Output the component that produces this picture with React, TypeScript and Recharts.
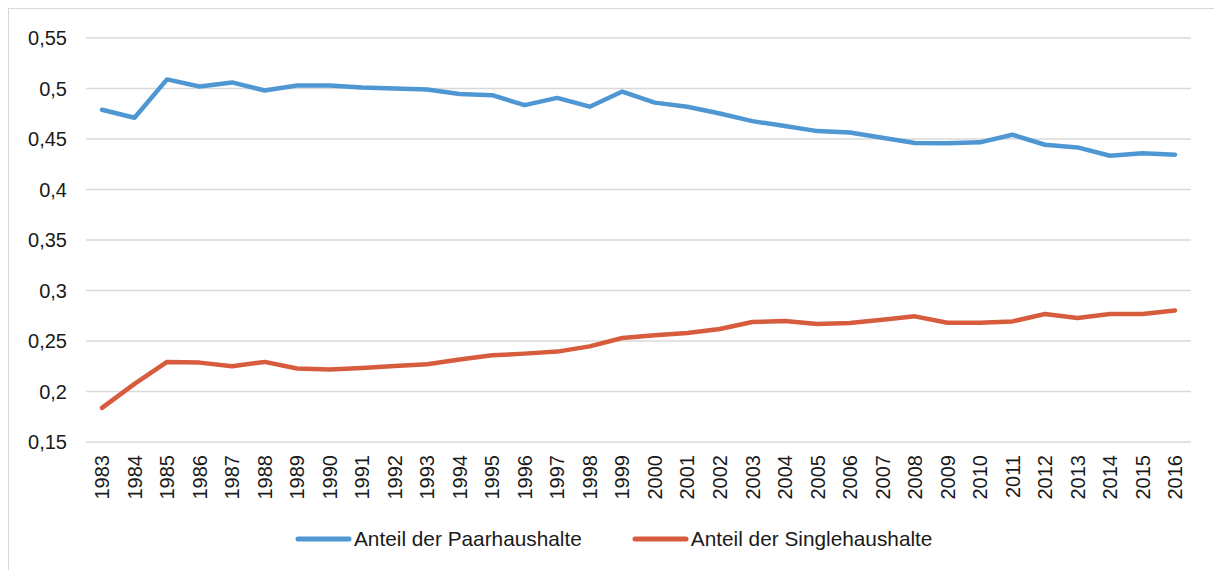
import { LineChart, Line, XAxis, YAxis, CartesianGrid, Legend } from 'recharts';

const years = [
  '1983', '1984', '1985', '1986', '1987', '1988', '1989', '1990', '1991', '1992', '1993', '1994',
  '1995', '1996', '1997', '1998', '1999', '2000', '2001', '2002', '2003', '2004', '2005', '2006',
  '2007', '2008', '2009', '2010', '2011', '2012', '2013', '2014', '2015', '2016',
];

const paarhaushalte = [
  0.479, 0.471, 0.509, 0.502, 0.506, 0.498, 0.503, 0.503, 0.501, 0.5, 0.499, 0.4945,
  0.4934, 0.4835, 0.4907, 0.482, 0.497, 0.486, 0.482, 0.4753, 0.4677, 0.4628, 0.4578, 0.4565,
  0.4512, 0.446, 0.4457, 0.4467, 0.4542, 0.4443, 0.4417, 0.4334, 0.436, 0.4344,
];

const singlehaushalte = [
  0.1838, 0.2075, 0.2293, 0.2286, 0.225, 0.2293, 0.2227, 0.2217, 0.2233, 0.2253, 0.227, 0.2316,
  0.2358, 0.2375, 0.2395, 0.2447, 0.253, 0.2556, 0.258, 0.2619, 0.2688, 0.2698, 0.2668, 0.2678,
  0.2711, 0.2744, 0.2681, 0.2681, 0.2694, 0.2767, 0.2727, 0.2767, 0.2767, 0.2803,
];

const yTicks = [0.15, 0.2, 0.25, 0.3, 0.35, 0.4, 0.45, 0.5, 0.55];

const seriesNames = ['Anteil der Paarhaushalte', 'Anteil der Singlehaushalte'];
const BLUE = '#4f97d3';
const RED = '#d65c3d';
const FONT = '"Liberation Sans", Arial, sans-serif';

const data = years.map((year, i) => ({
  year,
  paar: paarhaushalte[i],
  single: singlehaushalte[i],
}));

const YearTick = ({ x, y, payload }: { x?: number; y?: number; payload?: { value: string } }) => (
  <g transform={`translate(${x},${(y ?? 0) + 5}) rotate(-90)`}>
    <text textAnchor="end" dy="0.36em" fill="#1a1a1a" fontSize={20} fontFamily={FONT}>
      {payload?.value}
    </text>
  </g>
);

const LegendContent = () => (
  <div style={{ display: 'flex', alignItems: 'center', fontFamily: FONT, fontSize: 20.8, color: '#1a1a1a' }}>
    {[BLUE, RED].map((c, i) => (
      <div key={c} style={{ display: 'flex', alignItems: 'center', marginRight: i === 0 ? 50 : 0 }}>
        <svg width={57} height={8}>
          <line x1={3} y1={4} x2={54} y2={4} stroke={c} strokeWidth={5} strokeLinecap="round" />
        </svg>
        <span style={{ marginLeft: 2, lineHeight: '24px' }}>{seriesNames[i]}</span>
      </div>
    ))}
  </div>
);

export default function App() {
  return (
    <div style={{ position: 'absolute', left: 0, top: 0, width: 1214, height: 570, background: '#fff', overflow: 'hidden' }}>
      <div
        style={{
          position: 'absolute',
          left: 8,
          top: 8,
          width: 1240,
          height: 600,
          border: '1.5px solid #d9d9d9',
        }}
      />
      <div style={{ position: 'absolute', left: 0, top: 0 }}>
        <LineChart
          width={1214}
          height={570}
          data={data}
          margin={{ top: 38, right: 23, bottom: 48, left: 0 }}
          style={{ fontFamily: FONT }}
        >
          <CartesianGrid vertical={false} stroke="#d9d9d9" strokeWidth={1.5} />
          <XAxis
            dataKey="year"
            interval={0}
            height={80}
            axisLine={false}
            tickLine={false}
            padding={{ left: 16, right: 16 }}
            tick={<YearTick />}
          />
          <YAxis
            domain={[0.15, 0.55]}
            ticks={yTicks}
            width={86}
            axisLine={false}
            tickLine={false}
            tickMargin={13}
            tick={{ fill: '#1a1a1a', fontSize: 20, fontFamily: FONT }}
            tickFormatter={(v: number) => String(v).replace('.', ',')}
          />
          <Legend
            layout="horizontal"
            verticalAlign="middle"
            align="center"
            content={<LegendContent />}
            wrapperStyle={{ top: 527, left: 295, width: 'auto' }}
          />
          <Line
            type="linear"
            dataKey="paar"
            name={seriesNames[0]}
            stroke={BLUE}
            strokeWidth={4.5}
            dot={false}
            strokeLinecap="round"
            strokeLinejoin="round"
            isAnimationActive={false}
          />
          <Line
            type="linear"
            dataKey="single"
            name={seriesNames[1]}
            stroke={RED}
            strokeWidth={4.5}
            dot={false}
            strokeLinecap="round"
            strokeLinejoin="round"
            isAnimationActive={false}
          />
        </LineChart>
      </div>
    </div>
  );
}
